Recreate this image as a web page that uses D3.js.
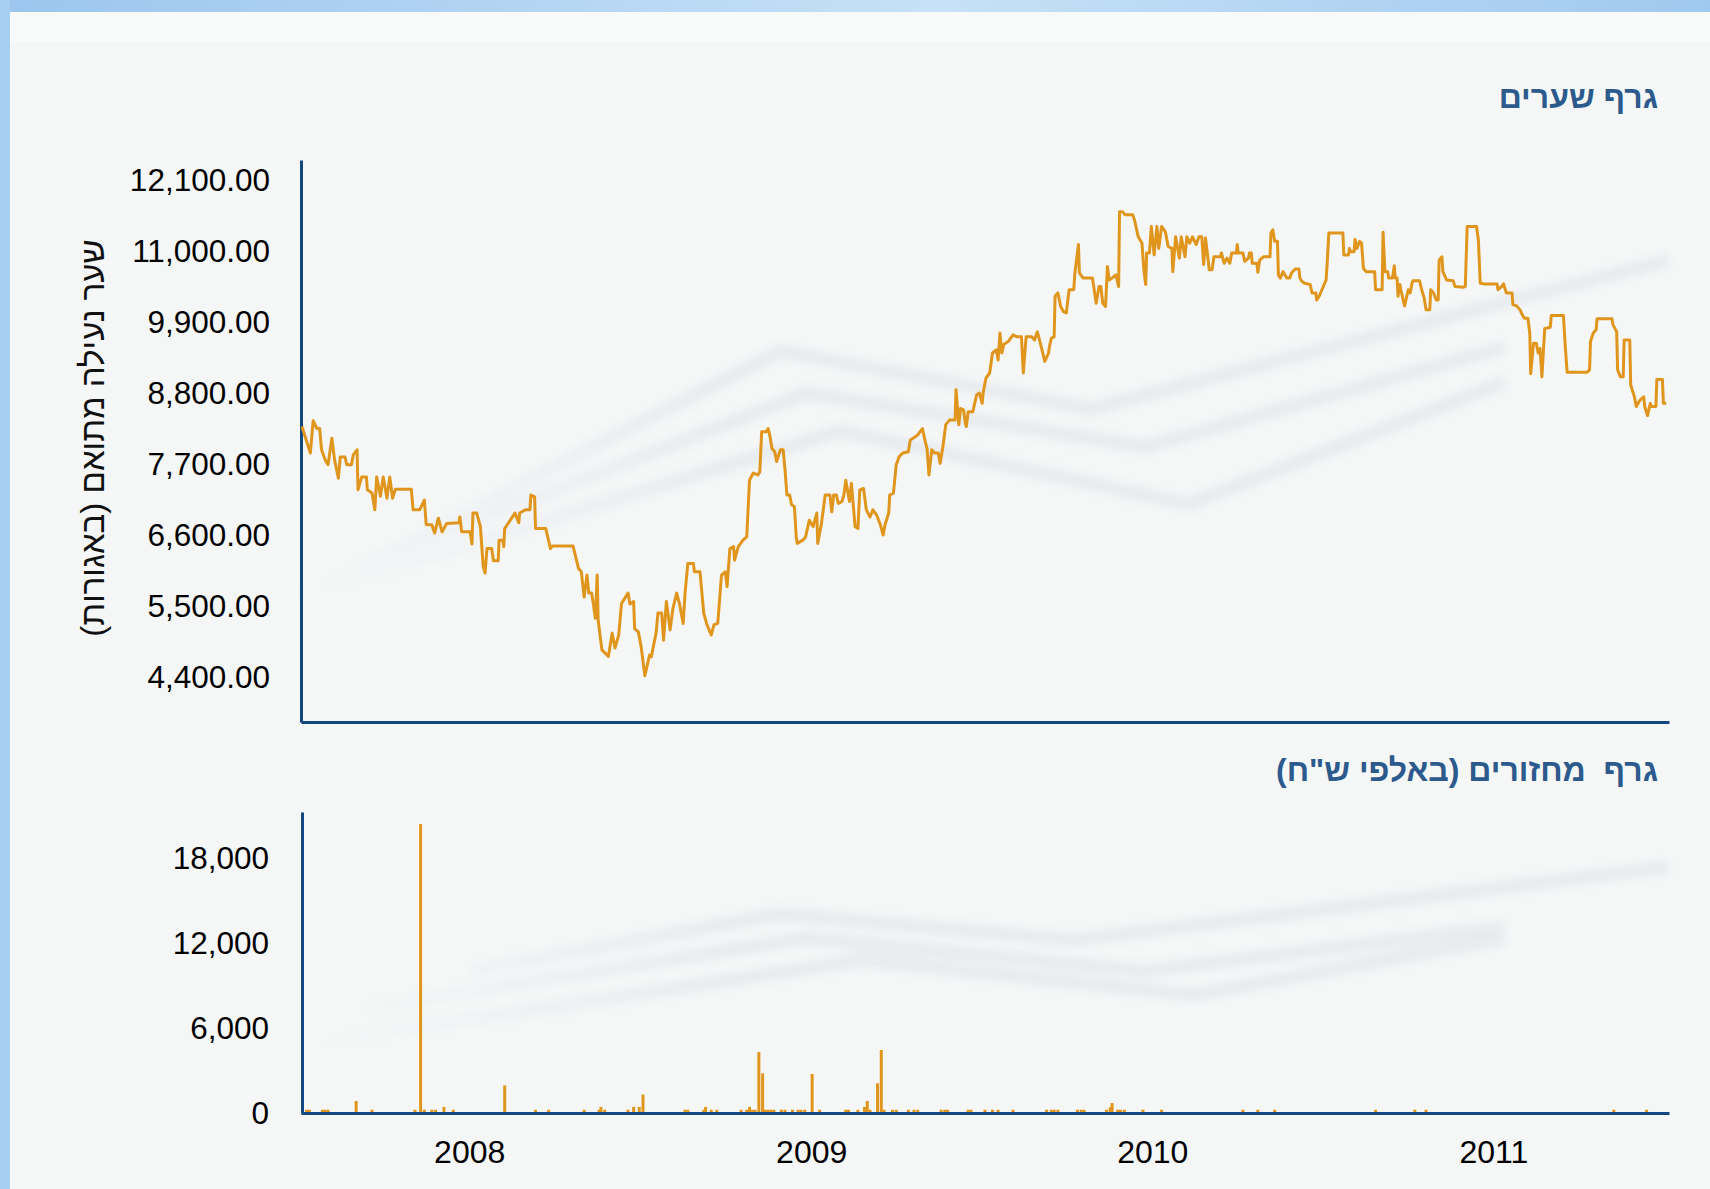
<!DOCTYPE html>
<html>
<head>
<meta charset="utf-8">
<script src="https://cdn.jsdelivr.net/npm/d3@7"></script>
<style>
  body { margin: 0; background: #f5f7f7; }
  svg { display: block; font-family: Arial, "Liberation Sans", sans-serif; }
</style>
</head>
<body>
<svg width="1710" height="1189"></svg>
<script>
// titles and labels (RTL text gets a trailing RLM so the parentheses stay put)
var RLM = "\u200F";
var priceTitle = "גרף שערים";
var volumeTitle = "גרף  מחזורים (באלפי ש\"ח)";
var priceAxisLabel = "שער נעילה מתואם (באגורות)";

var priceTicks = [4400, 5500, 6600, 7700, 8800, 9900, 11000, 12100];
var volumeTicks = [0, 6000, 12000, 18000];
var yearTicks = ["2008-01-01", "2009-01-01", "2010-01-01", "2011-01-01"];
var dateRange = ["2007-07-05", "2011-07-08"];

// adjusted closing price (agorot)
var price = [
["2007-07-06",8280],["2007-07-15",7870],["2007-07-18",8370],["2007-07-22",8250],["2007-07-25",8250],["2007-07-27",7920],["2007-07-31",7760],["2007-08-03",7690],["2007-08-07",8100],["2007-08-10",7760],["2007-08-14",7480],["2007-08-16",7810],["2007-08-21",7810],["2007-08-23",7690],["2007-08-28",7690],["2007-08-30",7840],["2007-09-03",7920],["2007-09-04",7300],["2007-09-08",7500],["2007-09-13",7500],["2007-09-14",7300],["2007-09-19",7250],["2007-09-22",6990],["2007-09-24",7500],["2007-09-28",7200],["2007-10-01",7500],["2007-10-05",7170],["2007-10-08",7500],["2007-10-11",7170],["2007-10-14",7310],["2007-10-31",7310],["2007-11-02",6990],["2007-11-09",6990],["2007-11-14",7140],["2007-11-16",6760],["2007-11-22",6760],["2007-11-25",6630],["2007-11-29",6860],["2007-12-03",6650],["2007-12-08",6780],["2007-12-21",6790],["2007-12-22",6880],["2007-12-24",6650],
["2008-01-02",6650],["2008-01-04",6460],["2008-01-05",6940],["2008-01-09",6940],["2008-01-13",6730],["2008-01-16",6110],["2008-01-18",6010],["2008-01-20",6390],["2008-01-25",6390],["2008-01-27",6200],["2008-02-01",6200],["2008-02-02",6520],["2008-02-06",6520],["2008-02-07",6420],["2008-02-08",6700],["2008-02-14",6830],["2008-02-19",6940],["2008-02-23",6790],["2008-02-24",6940],["2008-03-01",6990],["2008-03-06",6990],["2008-03-07",7220],["2008-03-11",7190],["2008-03-12",6700],["2008-03-23",6700],["2008-03-25",6570],["2008-03-28",6390],["2008-03-30",6430],["2008-04-21",6430],["2008-04-23",6320],["2008-04-27",6080],["2008-04-30",6030],["2008-05-03",5640],["2008-05-06",5980],["2008-05-08",5700],["2008-05-11",5700],["2008-05-13",5520],["2008-05-15",5310],["2008-05-17",5980],["2008-05-18",5280],["2008-05-22",4820],["2008-05-29",4720],["2008-06-02",5080],["2008-06-05",4850],["2008-06-09",5050],["2008-06-12",5540],["2008-06-19",5700],["2008-06-21",5530],["2008-06-25",5570],["2008-06-26",5150],["2008-06-30",5100],["2008-07-03",4870],["2008-07-07",4420],["2008-07-12",4740],["2008-07-14",4715],["2008-07-16",4870],["2008-07-19",5080],["2008-07-21",5390],["2008-07-25",5390],["2008-07-27",4970],["2008-07-30",5570],["2008-08-03",5130],["2008-08-06",5460],["2008-08-10",5700],["2008-08-13",5540],["2008-08-17",5230],["2008-08-19",5700],["2008-08-22",6160],["2008-08-28",6160],["2008-08-29",6030],["2008-09-04",6030],["2008-09-08",5390],["2008-09-11",5230],["2008-09-16",5050],["2008-09-19",5210],["2008-09-23",5230],["2008-09-27",5980],["2008-10-01",6030],["2008-10-03",5800],["2008-10-06",6390],["2008-10-10",6420],["2008-10-11",6210],["2008-10-15",6420],["2008-10-20",6520],["2008-10-24",6570],["2008-10-27",7450],["2008-10-31",7560],["2008-11-05",7530],["2008-11-07",7580],["2008-11-09",8200],["2008-11-14",8200],["2008-11-16",8250],["2008-11-18",8120],["2008-11-20",7940],["2008-11-23",7890],["2008-11-25",7740],["2008-11-29",7920],["2008-12-02",7920],["2008-12-04",7610],["2008-12-06",7220],["2008-12-09",7220],["2008-12-11",7070],["2008-12-14",7040],["2008-12-16",6570],["2008-12-17",6470],["2008-12-23",6520],["2008-12-26",6570],["2008-12-30",6830],
["2009-01-03",6730],["2009-01-07",6940],["2009-01-08",6470],["2009-01-12",6780],["2009-01-16",7220],["2009-01-21",7220],["2009-01-23",6960],["2009-01-25",7220],["2009-01-28",7220],["2009-01-30",7090],["2009-02-03",7120],["2009-02-05",7220],["2009-02-07",7450],["2009-02-11",7120],["2009-02-13",7400],["2009-02-17",6730],["2009-02-20",6700],["2009-02-22",7300],["2009-02-26",7320],["2009-03-01",6990],["2009-03-05",6880],["2009-03-08",6990],["2009-03-12",6910],["2009-03-16",6760],["2009-03-19",6600],["2009-03-21",6760],["2009-03-25",6940],["2009-03-26",7220],["2009-03-30",7250],["2009-04-02",7690],["2009-04-05",7810],["2009-04-09",7870],["2009-04-15",7890],["2009-04-17",8070],["2009-04-22",8120],["2009-04-25",8150],["2009-04-30",8250],["2009-05-03",8050],["2009-05-05",7940],["2009-05-07",7530],["2009-05-10",7920],["2009-05-13",7870],["2009-05-17",7870],["2009-05-19",7710],["2009-05-22",7970],["2009-05-25",8310],["2009-05-29",8380],["2009-06-04",8380],["2009-06-05",8850],["2009-06-08",8310],["2009-06-10",8560],["2009-06-13",8540],["2009-06-15",8330],["2009-06-16",8280],["2009-06-18",8510],["2009-06-23",8510],["2009-06-27",8770],["2009-06-30",8800],["2009-07-03",8640],["2009-07-04",8800],["2009-07-07",9030],["2009-07-11",9110],["2009-07-14",9420],["2009-07-18",9470],["2009-07-20",9310],["2009-07-22",9730],["2009-07-24",9420],["2009-07-26",9550],["2009-07-31",9600],["2009-08-05",9700],["2009-08-09",9670],["2009-08-14",9670],["2009-08-16",9110],["2009-08-19",9670],["2009-08-25",9670],["2009-08-28",9620],["2009-08-31",9750],["2009-09-05",9470],["2009-09-08",9290],["2009-09-12",9420],["2009-09-13",9520],["2009-09-15",9650],["2009-09-18",9670],["2009-09-19",10300],["2009-09-22",10350],["2009-09-25",10140],["2009-09-28",10060],["2009-10-01",10040],["2009-10-04",10400],["2009-10-09",10400],["2009-10-10",10630],["2009-10-14",11100],["2009-10-15",10660],["2009-10-19",10580],["2009-10-29",10580],["2009-11-02",10190],["2009-11-05",10450],["2009-11-07",10450],["2009-11-09",10190],["2009-11-12",10140],["2009-11-14",10760],["2009-11-16",10550],["2009-11-19",10580],["2009-11-23",10630],["2009-11-26",10450],["2009-11-27",11610],["2009-11-30",11610],["2009-12-03",11560],["2009-12-11",11560],["2009-12-13",11480],["2009-12-17",11220],["2009-12-21",11120],["2009-12-23",10710],["2009-12-25",10480],["2009-12-26",10970],["2009-12-29",10970],["2009-12-31",11380],
["2010-01-03",10940],["2010-01-06",11380],["2010-01-08",11040],["2010-01-11",11380],["2010-01-15",11300],["2010-01-18",11070],["2010-01-22",11040],["2010-01-23",10680],["2010-01-26",11220],["2010-01-30",10890],["2010-02-01",11220],["2010-02-05",10910],["2010-02-07",11220],["2010-02-10",11120],["2010-02-13",11220],["2010-02-17",11100],["2010-02-20",11220],["2010-02-23",11220],["2010-02-25",10790],["2010-02-27",11200],["2010-03-03",10710],["2010-03-06",10710],["2010-03-08",10910],["2010-03-15",10910],["2010-03-16",10970],["2010-03-19",10810],["2010-03-22",10890],["2010-03-25",10810],["2010-03-27",10970],["2010-04-01",10970],["2010-04-02",11100],["2010-04-03",10970],["2010-04-08",10970],["2010-04-10",10840],["2010-04-14",10890],["2010-04-15",10970],["2010-04-17",10970],["2010-04-18",10810],["2010-04-23",10810],["2010-04-24",10670],["2010-04-26",10860],["2010-04-30",10910],["2010-05-07",10910],["2010-05-08",11280],["2010-05-10",11330],["2010-05-12",11150],["2010-05-15",11150],["2010-05-16",10630],["2010-05-18",10580],["2010-05-21",10680],["2010-05-25",10580],["2010-05-28",10580],["2010-05-30",10660],["2010-06-03",10720],["2010-06-07",10720],["2010-06-08",10580],["2010-06-10",10530],["2010-06-13",10500],["2010-06-19",10480],["2010-06-21",10350],["2010-06-25",10350],["2010-06-26",10240],["2010-06-29",10310],["2010-07-03",10450],["2010-07-06",10550],["2010-07-07",10760],["2010-07-09",11280],["2010-07-24",11280],["2010-07-25",10940],["2010-07-30",10940],["2010-07-31",11040],["2010-08-01",10990],["2010-08-05",10990],["2010-08-06",11180],["2010-08-08",11040],["2010-08-11",11150],["2010-08-13",11120],["2010-08-15",10730],["2010-08-18",10680],["2010-08-27",10680],["2010-08-28",10400],["2010-09-04",10400],["2010-09-05",11290],["2010-09-07",10680],["2010-09-10",10680],["2010-09-11",10580],["2010-09-15",10580],["2010-09-17",10770],["2010-09-18",10580],["2010-09-20",10580],["2010-09-21",10300],["2010-09-23",10480],["2010-09-24",10400],["2010-09-28",10150],["2010-10-02",10400],["2010-10-04",10350],["2010-10-06",10500],["2010-10-07",10540],["2010-10-14",10540],["2010-10-16",10420],["2010-10-19",10270],["2010-10-21",10090],["2010-10-25",10090],["2010-10-26",10400],["2010-10-29",10350],["2010-11-01",10240],["2010-11-03",10240],["2010-11-04",10860],["2010-11-07",10910],["2010-11-08",10680],["2010-11-12",10550],["2010-11-19",10540],["2010-11-21",10450],["2010-11-30",10440],["2010-12-02",10450],["2010-12-04",11380],["2010-12-14",11380],["2010-12-16",11170],["2010-12-18",10500],["2010-12-23",10490],
["2011-01-05",10490],["2011-01-06",10400],["2011-01-10",10450],["2011-01-12",10490],["2011-01-15",10350],["2011-01-21",10350],["2011-01-22",10170],["2011-01-26",10150],["2011-01-30",10080],["2011-01-31",10040],["2011-02-03",9960],["2011-02-07",9960],["2011-02-09",9730],["2011-02-10",9100],["2011-02-13",9570],["2011-02-16",9570],["2011-02-18",9420],["2011-02-20",9490],["2011-02-22",9050],["2011-02-25",9800],["2011-03-03",9820],["2011-03-04",10000],["2011-03-17",10000],["2011-03-19",9520],["2011-03-21",9120],["2011-04-11",9120],["2011-04-14",9160],["2011-04-15",9600],["2011-04-18",9730],["2011-04-21",9780],["2011-04-22",9950],["2011-05-08",9950],["2011-05-09",9860],["2011-05-13",9750],["2011-05-14",9160],["2011-05-17",9050],["2011-05-20",9050],["2011-05-21",9620],["2011-05-27",9620],["2011-05-28",8930],["2011-05-29",8880],["2011-06-01",8740],["2011-06-03",8590],["2011-06-07",8690],["2011-06-11",8740],["2011-06-12",8590],["2011-06-15",8450],["2011-06-18",8640],["2011-06-19",8590],["2011-06-24",8590],["2011-06-25",9010],["2011-07-01",9010],["2011-07-02",8640],["2011-07-05",8640]
];

// turnover (thousands NIS)
var volume = [
["2007-07-11",230],["2007-07-14",230],["2007-07-28",230],["2007-07-31",230],["2007-08-03",230],["2007-09-02",850],["2007-09-19",230],["2007-11-04",230],["2007-11-10",20400],["2007-11-14",230],["2007-11-22",230],["2007-11-26",230],["2007-12-05",430],["2007-12-15",230],
["2008-02-08",1950],["2008-03-12",230],["2008-03-26",230],["2008-05-03",230],["2008-05-19",230],["2008-05-21",430],["2008-05-25",230],["2008-06-19",230],["2008-06-25",430],["2008-07-01",430],["2008-07-05",1300],["2008-08-19",230],["2008-08-22",230],["2008-09-08",230],["2008-09-10",430],["2008-09-16",230],["2008-09-22",230],["2008-10-18",230],["2008-10-24",230],["2008-10-27",430],["2008-10-30",230],["2008-11-02",230],["2008-11-06",4300],["2008-11-10",2800],["2008-11-13",230],["2008-11-16",230],["2008-11-19",230],["2008-11-22",230],["2008-11-30",230],["2008-12-04",230],["2008-12-12",230],["2008-12-18",230],["2008-12-21",230],["2008-12-25",230],
["2009-01-02",2750],["2009-01-10",230],["2009-02-07",230],["2009-02-10",230],["2009-02-20",230],["2009-02-27",430],["2009-03-02",850],["2009-03-05",230],["2009-03-13",2100],["2009-03-17",4450],["2009-03-20",230],["2009-03-29",230],["2009-04-02",230],["2009-04-15",230],["2009-04-21",230],["2009-04-25",230],["2009-05-20",230],["2009-05-24",230],["2009-05-27",230],["2009-06-18",230],["2009-06-21",230],["2009-07-06",230],["2009-07-14",230],["2009-07-20",230],["2009-08-05",230],["2009-09-10",230],["2009-09-15",230],["2009-09-18",230],["2009-09-22",230],["2009-10-13",230],["2009-10-17",230],["2009-10-20",230],["2009-11-13",230],["2009-11-17",400],["2009-11-19",700],["2009-11-25",230],["2009-11-28",230],["2009-12-02",230],["2009-12-22",230],
["2010-01-11",230],["2010-04-08",230],["2010-04-24",230],["2010-05-12",230],["2010-08-28",230],["2010-10-09",230],["2010-10-21",230],
["2011-05-10",230],["2011-06-14",230]
];

var parseDate = d3.timeParse("%Y-%m-%d");
var orange = "#e0951d", axisBlue = "#12477f", titleBlue = "#2c5a8c";

var svg = d3.select("svg");
var defs = svg.append("defs");

// ---- page frame ----
var topGrad = defs.append("linearGradient").attr("id", "topGrad");
topGrad.append("stop").attr("offset", "0").attr("stop-color", "#9cc6ee");
topGrad.append("stop").attr("offset", "0.55").attr("stop-color", "#c6e1f7");
topGrad.append("stop").attr("offset", "1").attr("stop-color", "#a0c9ef");
svg.append("rect").attr("width", 1710).attr("height", 1189).attr("fill", "#f5f7f7");
svg.append("rect").attr("x", 10).attr("y", 12).attr("width", 1700).attr("height", 30).attr("fill", "#f8f9f9");
svg.append("rect").attr("width", 1710).attr("height", 12).attr("fill", "url(#topGrad)");
svg.append("rect").attr("width", 10).attr("height", 1189).attr("fill", "#a8cef1");

// ---- faint watermark behind both plots ----
defs.append("filter").attr("id", "soft")
    .attr("x", "-10%").attr("y", "-50%").attr("width", "120%").attr("height", "200%")
  .append("feGaussianBlur").attr("stdDeviation", 4);
var wmGrad = defs.append("linearGradient").attr("id", "wmGrad")
    .attr("gradientUnits", "userSpaceOnUse").attr("x1", 300).attr("x2", 720).attr("y1", 0).attr("y2", 0);
wmGrad.append("stop").attr("offset", "0").attr("stop-color", "#e6e9ed").attr("stop-opacity", 0);
wmGrad.append("stop").attr("offset", "1").attr("stop-color", "#e6e9ed").attr("stop-opacity", 1);

var watermark = [
  [[360,567],[780,351],[1091,409],[1669,260]],
  [[327,578],[807,393],[1145,447],[1505,347]],
  [[305,594],[840,431],[1189,504],[1505,382]],
  [[469,971],[780,914],[1074,940],[1669,867]],
  [[360,1009],[807,938],[1145,971],[1505,927]],
  [[305,1044],[862,960],[1194,995],[1505,938]]
];
svg.append("g").attr("filter", "url(#soft)").attr("opacity", 0.8)
  .selectAll("path").data(watermark).enter().append("path")
    .attr("d", d3.line())
    .attr("fill", "none")
    .attr("stroke", "url(#wmGrad)")
    .attr("stroke-width", 15);

// ---- scales ----
var x = d3.scaleTime()
    .domain(dateRange.map(parseDate))
    .range([301, 1669]);

var yPrice = d3.scaleLinear()
    .domain([3703, 12410])
    .range([722, 160]);

var yVol = d3.scaleLinear()
    .domain([0, 21250])
    .range([1113, 812]);

function styleAxis(g, size) {
  g.select(".domain").attr("stroke", axisBlue).attr("stroke-width", 3);
  g.selectAll("text").attr("fill", "#000").attr("font-size", size)
    .attr("font-family", "Arial, 'Liberation Sans', sans-serif");
}

// ---- price chart ----
svg.append("g")
    .attr("transform", "translate(301,0)")
    .call(d3.axisLeft(yPrice).tickValues(priceTicks).tickFormat(d3.format(",.2f"))
      .tickSize(0).tickSizeOuter(0).tickPadding(31))
    .call(styleAxis, 31.5);

svg.append("g")
    .attr("transform", "translate(0,722)")
    .call(d3.axisBottom(x).tickValues([]).tickSizeOuter(0))
    .call(styleAxis, 31);

svg.append("path")
    .datum(price)
    .attr("fill", "none")
    .attr("stroke", orange)
    .attr("stroke-width", 3)
    .attr("stroke-linejoin", "round")
    .attr("d", d3.line()
      .x(function(d) { return x(parseDate(d[0])); })
      .y(function(d) { return yPrice(d[1]); }));

svg.append("text")
    .attr("transform", "translate(92,438) rotate(-90)")
    .attr("text-anchor", "middle")
    .attr("dominant-baseline", "central")
    .attr("font-size", 33)
    .attr("fill", "#111")
    .text(priceAxisLabel + RLM);

svg.append("text")
    .attr("x", 1658).attr("y", 108)
    .attr("text-anchor", "end")
    .attr("font-size", 32).attr("font-weight", "bold")
    .attr("fill", titleBlue)
    .text(priceTitle + RLM);

// ---- turnover chart ----
svg.append("g").selectAll("rect")
    .data(volume)
    .enter().append("rect")
      .attr("x", function(d) { return x(parseDate(d[0])) - 1.5; })
      .attr("width", 3)
      .attr("y", function(d) { return yVol(d[1]); })
      .attr("height", function(d) { return yVol(0) - yVol(d[1]); })
      .attr("fill", orange);

svg.append("g")
    .attr("transform", "translate(302,0)")
    .call(d3.axisLeft(yVol).tickValues(volumeTicks).tickFormat(d3.format(","))
      .tickSize(0).tickSizeOuter(0).tickPadding(33))
    .call(styleAxis, 31.5);

svg.append("g")
    .attr("transform", "translate(0,1113)")
    .call(d3.axisBottom(x).tickValues(yearTicks.map(parseDate)).tickFormat(d3.timeFormat("%Y"))
      .tickSize(0).tickSizeOuter(0).tickPadding(27))
    .call(styleAxis, 32);

svg.append("text")
    .attr("x", 1658).attr("y", 781)
    .attr("text-anchor", "end")
    .attr("font-size", 32).attr("font-weight", "bold")
    .attr("fill", titleBlue)
    .style("white-space", "pre")
    .text(volumeTitle + RLM);
</script>
</body>
</html>
